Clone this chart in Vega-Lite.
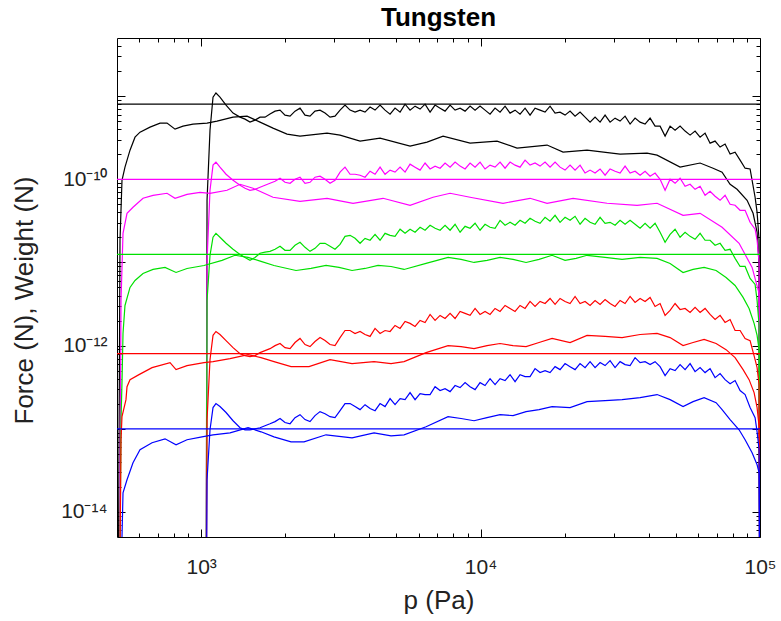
{
"$schema":"https://vega.github.io/schema/vega-lite/v6.json",
"width":643,"height":499,
"autosize":{"type":"none"},
"padding":{"left":117,"top":38,"right":21,"bottom":84},
"background":"white",
"title":{"text":"Tungsten","fontSize":26,"fontWeight":"bold","font":"Liberation Sans","color":"#000","offset":4,"anchor":"middle"},
"config":{"font":"Liberation Sans","view":{"stroke":null},"axis":{"domainColor":"#000","tickColor":"#000","labelColor":"#222","titleColor":"#222","grid":false,"labelFontSize":21,"titleFontSize":26,"titleFontWeight":"normal","domainWidth":1,"tickWidth":1,"labelFont":"Liberation Sans","titleFont":"Liberation Sans"}},
"datasets":{
"curves":[
{"s":"ks","p":504,"F":1e-16},{"s":"ks","p":512.5,"F":1.85e-11},{"s":"ks","p":521,"F":9.73e-11},{"s":"ks","p":534,"F":1.4e-10},{"s":"ks","p":556.6,"F":2.24e-10},{"s":"ks","p":580,"F":3.21e-10},{"s":"ks","p":604.4,"F":3.69e-10},{"s":"ks","p":656.4,"F":4.24e-10},{"s":"ks","p":712.8,"F":4.74e-10},{"s":"ks","p":755.1,"F":4.74e-10},{"s":"ks","p":806.6,"F":4.01e-10},{"s":"ks","p":861.4,"F":4.36e-10},{"s":"ks","p":935.4,"F":4.61e-10},{"s":"ks","p":1050,"F":4.74e-10},{"s":"ks","p":1140,"F":5.01e-10},{"s":"ks","p":1301,"F":5.59e-10},{"s":"ks","p":1460,"F":5.75e-10},{"s":"ks","p":1625,"F":4.87e-10},{"s":"ks","p":1808,"F":4.12e-10},{"s":"ks","p":2030,"F":3.49e-10},{"s":"ks","p":2259,"F":3.31e-10},{"s":"ks","p":2823,"F":3.59e-10},{"s":"ks","p":3142,"F":3.4e-10},{"s":"ks","p":3705,"F":2.88e-10},{"s":"ks","p":4369,"F":3.13e-10},{"s":"ks","p":5594,"F":2.51e-10},{"s":"ks","p":6435,"F":2.8e-10},{"s":"ks","p":7342,"F":3.31e-10},{"s":"ks","p":9172,"F":2.72e-10},{"s":"ks","p":11456,"F":2.88e-10},{"s":"ks","p":13507,"F":2.37e-10},{"s":"ks","p":17298,"F":2.58e-10},{"s":"ks","p":19736,"F":2.12e-10},{"s":"ks","p":24051,"F":2.24e-10},{"s":"ks","p":31570,"F":2.01e-10},{"s":"ks","p":39437,"F":2.06e-10},{"s":"ks","p":42823,"F":1.95e-10},{"s":"ks","p":51761,"F":1.4e-10},{"s":"ks","p":61038,"F":1.57e-10},{"s":"ks","p":67940,"F":1.36e-10},{"s":"ks","p":73171,"F":1.22e-10},{"s":"ks","p":78158,"F":8.71e-11},{"s":"ks","p":82780,"F":7.58e-11},{"s":"ks","p":89900,"F":5.59e-11},{"s":"ks","p":94460,"F":3.9e-11},{"s":"ks","p":97634,"F":2.31e-11},{"s":"ks","p":99260,"F":9.2e-12},{"s":"ks","p":100000,"F":1e-16},
{"s":"kn","p":1041,"F":1e-16},{"s":"kn","p":1050,"F":5.59e-11},{"s":"kn","p":1076,"F":3.9e-10},{"s":"kn","p":1103,"F":9.73e-10},{"s":"kn","p":1130,"F":1.09e-9},{"s":"kn","p":1168,"F":9.73e-10},{"s":"kn","p":1228,"F":7.8e-10},{"s":"kn","p":1301,"F":6.25e-10},{"s":"kn","p":1378,"F":5.59e-10},{"s":"kn","p":1436,"F":5.29e-10},{"s":"kn","p":1496,"F":4.87e-10},{"s":"kn","p":1559,"F":5.15e-10},{"s":"kn","p":1625,"F":5.59e-10},{"s":"kn","p":1693,"F":5.59e-10},{"s":"kn","p":1764,"F":6.08e-10},{"s":"kn","p":1839,"F":6.6e-10},{"s":"kn","p":1916,"F":6.79e-10},{"s":"kn","p":1996,"F":5.91e-10},{"s":"kn","p":2081,"F":5.75e-10},{"s":"kn","p":2168,"F":6.6e-10},{"s":"kn","p":2259,"F":7.17e-10},{"s":"kn","p":2354,"F":5.91e-10},{"s":"kn","p":2453,"F":5.75e-10},{"s":"kn","p":2556,"F":6.6e-10},{"s":"kn","p":2664,"F":6.79e-10},{"s":"kn","p":2776,"F":6.25e-10},{"s":"kn","p":2893,"F":5.59e-10},{"s":"kn","p":3014,"F":5.75e-10},{"s":"kn","p":3142,"F":6.79e-10},{"s":"kn","p":3273,"F":7.8e-10},{"s":"kn","p":3412,"F":6.79e-10},{"s":"kn","p":3555,"F":6.42e-10},{"s":"kn","p":3705,"F":6.79e-10},{"s":"kn","p":3860,"F":6.42e-10},{"s":"kn","p":4023,"F":7.38e-10},{"s":"kn","p":4192,"F":6.79e-10},{"s":"kn","p":4369,"F":7.8e-10},{"s":"kn","p":4552,"F":6.79e-10},{"s":"kn","p":4744,"F":6.08e-10},{"s":"kn","p":4943,"F":7.17e-10},{"s":"kn","p":5152,"F":6.42e-10},{"s":"kn","p":5368,"F":8.01e-10},{"s":"kn","p":5594,"F":6.79e-10},{"s":"kn","p":5829,"F":7.58e-10},{"s":"kn","p":6075,"F":6.98e-10},{"s":"kn","p":6330,"F":8.01e-10},{"s":"kn","p":6597,"F":6.42e-10},{"s":"kn","p":6874,"F":7.8e-10},{"s":"kn","p":7164,"F":7.17e-10},{"s":"kn","p":7464,"F":6.6e-10},{"s":"kn","p":7779,"F":7.8e-10},{"s":"kn","p":8106,"F":6.79e-10},{"s":"kn","p":8447,"F":7.17e-10},{"s":"kn","p":8802,"F":6.6e-10},{"s":"kn","p":9172,"F":7.58e-10},{"s":"kn","p":9558,"F":6.79e-10},{"s":"kn","p":9958,"F":7.58e-10},{"s":"kn","p":10377,"F":6.79e-10},{"s":"kn","p":10813,"F":6.08e-10},{"s":"kn","p":11269,"F":7.17e-10},{"s":"kn","p":11742,"F":6.42e-10},{"s":"kn","p":12237,"F":7.58e-10},{"s":"kn","p":12751,"F":6.25e-10},{"s":"kn","p":13288,"F":6.79e-10},{"s":"kn","p":13846,"F":6.08e-10},{"s":"kn","p":14430,"F":7.17e-10},{"s":"kn","p":15035,"F":5.91e-10},{"s":"kn","p":15668,"F":7.17e-10},{"s":"kn","p":16327,"F":6.79e-10},{"s":"kn","p":17015,"F":6.42e-10},{"s":"kn","p":17730,"F":7.58e-10},{"s":"kn","p":18477,"F":6.25e-10},{"s":"kn","p":19253,"F":6.42e-10},{"s":"kn","p":20064,"F":5.91e-10},{"s":"kn","p":20907,"F":6.6e-10},{"s":"kn","p":21788,"F":5.75e-10},{"s":"kn","p":22703,"F":6.42e-10},{"s":"kn","p":23659,"F":5.59e-10},{"s":"kn","p":24654,"F":4.87e-10},{"s":"kn","p":25691,"F":5.59e-10},{"s":"kn","p":26772,"F":4.87e-10},{"s":"kn","p":27898,"F":5.91e-10},{"s":"kn","p":29073,"F":4.87e-10},{"s":"kn","p":30294,"F":5.44e-10},{"s":"kn","p":31570,"F":5.01e-10},{"s":"kn","p":32895,"F":5.75e-10},{"s":"kn","p":34283,"F":4.61e-10},{"s":"kn","p":35725,"F":5.44e-10},{"s":"kn","p":37228,"F":4.87e-10},{"s":"kn","p":38794,"F":4.61e-10},{"s":"kn","p":40427,"F":5.44e-10},{"s":"kn","p":42125,"F":4.36e-10},{"s":"kn","p":43899,"F":4.36e-10},{"s":"kn","p":45745,"F":3.31e-10},{"s":"kn","p":47672,"F":4.36e-10},{"s":"kn","p":49672,"F":3.9e-10},{"s":"kn","p":51761,"F":4.36e-10},{"s":"kn","p":53938,"F":3.8e-10},{"s":"kn","p":56209,"F":3.4e-10},{"s":"kn","p":58567,"F":3.8e-10},{"s":"kn","p":61038,"F":3.21e-10},{"s":"kn","p":63599,"F":3.59e-10},{"s":"kn","p":66281,"F":2.72e-10},{"s":"kn","p":69063,"F":2.88e-10},{"s":"kn","p":71974,"F":2.44e-10},{"s":"kn","p":74995,"F":2.65e-10},{"s":"kn","p":78158,"F":2.01e-10},{"s":"kn","p":81438,"F":2.12e-10},{"s":"kn","p":84870,"F":1.7e-10},{"s":"kn","p":88440,"F":1.36e-10},{"s":"kn","p":92158,"F":1.33e-10},{"s":"kn","p":96042,"F":6.08e-11},{"s":"kn","p":97634,"F":4.01e-11},{"s":"kn","p":99260,"F":1.85e-11},{"s":"kn","p":100000,"F":1e-16},
{"s":"ms","p":508.3,"F":1e-16},{"s":"ms","p":516.8,"F":3.49e-12},{"s":"ms","p":525.4,"F":2.24e-11},{"s":"ms","p":543,"F":3.9e-11},{"s":"ms","p":570.5,"F":4.61e-11},{"s":"ms","p":619.5,"F":5.91e-11},{"s":"ms","p":672.9,"F":6.42e-11},{"s":"ms","p":755.1,"F":6.79e-11},{"s":"ms","p":806.6,"F":5.91e-11},{"s":"ms","p":890.3,"F":6.6e-11},{"s":"ms","p":991,"F":6.98e-11},{"s":"ms","p":1076,"F":6.79e-11},{"s":"ms","p":1238,"F":7.38e-11},{"s":"ms","p":1378,"F":8.71e-11},{"s":"ms","p":1534,"F":7.8e-11},{"s":"ms","p":1808,"F":6.08e-11},{"s":"ms","p":2259,"F":5.44e-11},{"s":"ms","p":2823,"F":5.91e-11},{"s":"ms","p":3497,"F":5.15e-11},{"s":"ms","p":4478,"F":5.91e-11},{"s":"ms","p":5594,"F":4.87e-11},{"s":"ms","p":6761,"F":6.08e-11},{"s":"ms","p":7779,"F":6.79e-11},{"s":"ms","p":9172,"F":6.08e-11},{"s":"ms","p":12036,"F":5.15e-11},{"s":"ms","p":15035,"F":5.91e-11},{"s":"ms","p":17298,"F":5.15e-11},{"s":"ms","p":21431,"F":5.91e-11},{"s":"ms","p":28364,"F":5.15e-11},{"s":"ms","p":36318,"F":4.87e-11},{"s":"ms","p":42823,"F":5.15e-11},{"s":"ms","p":53050,"F":3.69e-11},{"s":"ms","p":61038,"F":3.9e-11},{"s":"ms","p":73171,"F":2.65e-11},{"s":"ms","p":84175,"F":1.7e-11},{"s":"ms","p":93700,"F":8.71e-12},{"s":"ms","p":99260,"F":4.24e-12},{"s":"ms","p":100000,"F":1e-16},
{"s":"mn","p":1041,"F":1e-16},{"s":"mn","p":1050,"F":1.06e-11},{"s":"mn","p":1076,"F":7.38e-11},{"s":"mn","p":1103,"F":1.48e-10},{"s":"mn","p":1130,"F":1.61e-10},{"s":"mn","p":1168,"F":1.4e-10},{"s":"mn","p":1228,"F":1.15e-10},{"s":"mn","p":1301,"F":9.73e-11},{"s":"mn","p":1378,"F":8.47e-11},{"s":"mn","p":1436,"F":7.8e-11},{"s":"mn","p":1496,"F":7.38e-11},{"s":"mn","p":1559,"F":7.58e-11},{"s":"mn","p":1625,"F":8.01e-11},{"s":"mn","p":1693,"F":8.47e-11},{"s":"mn","p":1764,"F":8.95e-11},{"s":"mn","p":1839,"F":9.46e-11},{"s":"mn","p":1916,"F":1.03e-10},{"s":"mn","p":1996,"F":9.2e-11},{"s":"mn","p":2081,"F":8.95e-11},{"s":"mn","p":2168,"F":1e-10},{"s":"mn","p":2259,"F":1.06e-10},{"s":"mn","p":2354,"F":8.95e-11},{"s":"mn","p":2453,"F":9.2e-11},{"s":"mn","p":2556,"F":1.06e-10},{"s":"mn","p":2664,"F":1.09e-10},{"s":"mn","p":2776,"F":1e-10},{"s":"mn","p":2893,"F":8.95e-11},{"s":"mn","p":3014,"F":9.73e-11},{"s":"mn","p":3142,"F":1.22e-10},{"s":"mn","p":3273,"F":1.4e-10},{"s":"mn","p":3412,"F":1.15e-10},{"s":"mn","p":3555,"F":1.15e-10},{"s":"mn","p":3705,"F":1.12e-10},{"s":"mn","p":3860,"F":1.06e-10},{"s":"mn","p":4023,"F":1.25e-10},{"s":"mn","p":4192,"F":1.15e-10},{"s":"mn","p":4369,"F":1.4e-10},{"s":"mn","p":4552,"F":1.15e-10},{"s":"mn","p":4744,"F":1.29e-10},{"s":"mn","p":4943,"F":1.22e-10},{"s":"mn","p":5152,"F":1.4e-10},{"s":"mn","p":5368,"F":1.22e-10},{"s":"mn","p":5594,"F":1.52e-10},{"s":"mn","p":5829,"F":1.4e-10},{"s":"mn","p":6075,"F":1.29e-10},{"s":"mn","p":6330,"F":1.57e-10},{"s":"mn","p":6597,"F":1.33e-10},{"s":"mn","p":6874,"F":1.44e-10},{"s":"mn","p":7164,"F":1.36e-10},{"s":"mn","p":7464,"F":1.57e-10},{"s":"mn","p":7779,"F":1.4e-10},{"s":"mn","p":8106,"F":1.61e-10},{"s":"mn","p":8447,"F":1.44e-10},{"s":"mn","p":8802,"F":1.33e-10},{"s":"mn","p":9172,"F":1.57e-10},{"s":"mn","p":9558,"F":1.4e-10},{"s":"mn","p":9958,"F":1.61e-10},{"s":"mn","p":10377,"F":1.33e-10},{"s":"mn","p":10813,"F":1.48e-10},{"s":"mn","p":11269,"F":1.4e-10},{"s":"mn","p":11742,"F":1.61e-10},{"s":"mn","p":12237,"F":1.36e-10},{"s":"mn","p":12751,"F":1.61e-10},{"s":"mn","p":13288,"F":1.48e-10},{"s":"mn","p":13846,"F":1.4e-10},{"s":"mn","p":14430,"F":1.7e-10},{"s":"mn","p":15035,"F":1.48e-10},{"s":"mn","p":15668,"F":1.57e-10},{"s":"mn","p":16327,"F":1.44e-10},{"s":"mn","p":17015,"F":1.61e-10},{"s":"mn","p":17730,"F":1.4e-10},{"s":"mn","p":18477,"F":1.61e-10},{"s":"mn","p":19253,"F":1.4e-10},{"s":"mn","p":20064,"F":1.29e-10},{"s":"mn","p":20907,"F":1.48e-10},{"s":"mn","p":21788,"F":1.29e-10},{"s":"mn","p":22703,"F":1.48e-10},{"s":"mn","p":23659,"F":1.19e-10},{"s":"mn","p":24654,"F":1.29e-10},{"s":"mn","p":25691,"F":1.19e-10},{"s":"mn","p":26772,"F":1.33e-10},{"s":"mn","p":27898,"F":1.12e-10},{"s":"mn","p":29073,"F":1.33e-10},{"s":"mn","p":30294,"F":1.25e-10},{"s":"mn","p":31570,"F":1.19e-10},{"s":"mn","p":32895,"F":1.44e-10},{"s":"mn","p":34283,"F":1.19e-10},{"s":"mn","p":35725,"F":1.25e-10},{"s":"mn","p":37228,"F":1.12e-10},{"s":"mn","p":38794,"F":1.25e-10},{"s":"mn","p":40427,"F":1.09e-10},{"s":"mn","p":42125,"F":1.19e-10},{"s":"mn","p":43899,"F":1e-10},{"s":"mn","p":45745,"F":7.38e-11},{"s":"mn","p":47672,"F":1e-10},{"s":"mn","p":49672,"F":8.95e-11},{"s":"mn","p":51761,"F":1.03e-10},{"s":"mn","p":53938,"F":8.24e-11},{"s":"mn","p":56209,"F":8.71e-11},{"s":"mn","p":58567,"F":7.58e-11},{"s":"mn","p":61038,"F":8.24e-11},{"s":"mn","p":63599,"F":6.42e-11},{"s":"mn","p":66281,"F":7.17e-11},{"s":"mn","p":69063,"F":6.25e-11},{"s":"mn","p":71974,"F":5.59e-11},{"s":"mn","p":74995,"F":6.42e-11},{"s":"mn","p":78158,"F":5.01e-11},{"s":"mn","p":81438,"F":4.87e-11},{"s":"mn","p":84870,"F":4.24e-11},{"s":"mn","p":88440,"F":4.24e-11},{"s":"mn","p":92158,"F":3.04e-11},{"s":"mn","p":96042,"F":2.51e-11},{"s":"mn","p":97634,"F":1.85e-11},{"s":"mn","p":99260,"F":1e-11},{"s":"mn","p":100000,"F":1e-16},
{"s":"gs","p":508.3,"F":1e-16},{"s":"gs","p":516.8,"F":1.29e-13},{"s":"gs","p":521,"F":3.59e-13},{"s":"gs","p":525.4,"F":1.4e-12},{"s":"gs","p":534,"F":3.04e-12},{"s":"gs","p":556.6,"F":5.01e-12},{"s":"gs","p":580,"F":6.08e-12},{"s":"gs","p":619.5,"F":7.38e-12},{"s":"gs","p":672.9,"F":8.24e-12},{"s":"gs","p":742.8,"F":8.71e-12},{"s":"gs","p":813.3,"F":7.58e-12},{"s":"gs","p":890.3,"F":8.47e-12},{"s":"gs","p":1024,"F":9.2e-12},{"s":"gs","p":1188,"F":1.06e-11},{"s":"gs","p":1322,"F":1.22e-11},{"s":"gs","p":1472,"F":1.15e-11},{"s":"gs","p":1638,"F":1.03e-11},{"s":"gs","p":1823,"F":9.2e-12},{"s":"gs","p":2186,"F":8.01e-12},{"s":"gs","p":2474,"F":8.47e-12},{"s":"gs","p":2799,"F":9.2e-12},{"s":"gs","p":3115,"F":8.71e-12},{"s":"gs","p":3468,"F":8.01e-12},{"s":"gs","p":3860,"F":8.47e-12},{"s":"gs","p":4297,"F":9.2e-12},{"s":"gs","p":4783,"F":8.95e-12},{"s":"gs","p":5324,"F":8.24e-12},{"s":"gs","p":6382,"F":9.73e-12},{"s":"gs","p":7651,"F":1.15e-11},{"s":"gs","p":8516,"F":1.09e-11},{"s":"gs","p":9478,"F":1e-11},{"s":"gs","p":10550,"F":1.06e-11},{"s":"gs","p":11742,"F":1.15e-11},{"s":"gs","p":13071,"F":1.09e-11},{"s":"gs","p":14550,"F":1e-11},{"s":"gs","p":16193,"F":1.09e-11},{"s":"gs","p":18025,"F":1.22e-11},{"s":"gs","p":20064,"F":1.06e-11},{"s":"gs","p":21968,"F":1.12e-11},{"s":"gs","p":24051,"F":1.22e-11},{"s":"gs","p":27898,"F":1.15e-11},{"s":"gs","p":32095,"F":1.09e-11},{"s":"gs","p":37228,"F":1.15e-11},{"s":"gs","p":42823,"F":1.12e-11},{"s":"gs","p":47672,"F":9.73e-12},{"s":"gs","p":53050,"F":7.58e-12},{"s":"gs","p":57614,"F":8.24e-12},{"s":"gs","p":63095,"F":8.71e-12},{"s":"gs","p":69650,"F":8.01e-12},{"s":"gs","p":75615,"F":6.6e-12},{"s":"gs","p":81438,"F":5.29e-12},{"s":"gs","p":86990,"F":3.8e-12},{"s":"gs","p":91403,"F":2.8e-12},{"s":"gs","p":95250,"F":1.85e-12},{"s":"gs","p":97634,"F":1.33e-12},{"s":"gs","p":99260,"F":8.95e-13},{"s":"gs","p":100000,"F":1e-16},
{"s":"gn","p":1041,"F":1e-16},{"s":"gn","p":1050,"F":3.49e-12},{"s":"gn","p":1076,"F":1.22e-11},{"s":"gn","p":1103,"F":2.01e-11},{"s":"gn","p":1130,"F":2.24e-11},{"s":"gn","p":1168,"F":2.01e-11},{"s":"gn","p":1228,"F":1.7e-11},{"s":"gn","p":1301,"F":1.44e-11},{"s":"gn","p":1378,"F":1.25e-11},{"s":"gn","p":1436,"F":1.15e-11},{"s":"gn","p":1496,"F":1.06e-11},{"s":"gn","p":1559,"F":1.15e-11},{"s":"gn","p":1625,"F":1.29e-11},{"s":"gn","p":1693,"F":1.33e-11},{"s":"gn","p":1764,"F":1.36e-11},{"s":"gn","p":1839,"F":1.44e-11},{"s":"gn","p":1916,"F":1.57e-11},{"s":"gn","p":1996,"F":1.4e-11},{"s":"gn","p":2081,"F":1.4e-11},{"s":"gn","p":2168,"F":1.61e-11},{"s":"gn","p":2259,"F":1.75e-11},{"s":"gn","p":2354,"F":1.52e-11},{"s":"gn","p":2453,"F":1.36e-11},{"s":"gn","p":2556,"F":1.48e-11},{"s":"gn","p":2664,"F":1.7e-11},{"s":"gn","p":2776,"F":1.7e-11},{"s":"gn","p":2893,"F":1.57e-11},{"s":"gn","p":3014,"F":1.44e-11},{"s":"gn","p":3142,"F":1.65e-11},{"s":"gn","p":3273,"F":2.06e-11},{"s":"gn","p":3412,"F":2.12e-11},{"s":"gn","p":3555,"F":1.95e-11},{"s":"gn","p":3705,"F":1.7e-11},{"s":"gn","p":3860,"F":1.95e-11},{"s":"gn","p":4023,"F":1.85e-11},{"s":"gn","p":4192,"F":2.18e-11},{"s":"gn","p":4369,"F":1.85e-11},{"s":"gn","p":4552,"F":2.24e-11},{"s":"gn","p":4744,"F":2.12e-11},{"s":"gn","p":4943,"F":2.06e-11},{"s":"gn","p":5152,"F":2.51e-11},{"s":"gn","p":5368,"F":2.24e-11},{"s":"gn","p":5594,"F":2.51e-11},{"s":"gn","p":5829,"F":2.31e-11},{"s":"gn","p":6075,"F":2.65e-11},{"s":"gn","p":6330,"F":2.44e-11},{"s":"gn","p":6597,"F":2.8e-11},{"s":"gn","p":6874,"F":2.58e-11},{"s":"gn","p":7164,"F":2.44e-11},{"s":"gn","p":7464,"F":2.8e-11},{"s":"gn","p":7779,"F":2.44e-11},{"s":"gn","p":8106,"F":2.88e-11},{"s":"gn","p":8447,"F":2.31e-11},{"s":"gn","p":8802,"F":2.72e-11},{"s":"gn","p":9172,"F":2.58e-11},{"s":"gn","p":9558,"F":2.96e-11},{"s":"gn","p":9958,"F":2.44e-11},{"s":"gn","p":10377,"F":2.88e-11},{"s":"gn","p":10813,"F":2.65e-11},{"s":"gn","p":11269,"F":2.58e-11},{"s":"gn","p":11742,"F":3.21e-11},{"s":"gn","p":12237,"F":2.8e-11},{"s":"gn","p":12751,"F":3.04e-11},{"s":"gn","p":13288,"F":2.8e-11},{"s":"gn","p":13846,"F":3.21e-11},{"s":"gn","p":14430,"F":2.96e-11},{"s":"gn","p":15035,"F":3.4e-11},{"s":"gn","p":15668,"F":3.13e-11},{"s":"gn","p":16327,"F":2.96e-11},{"s":"gn","p":17015,"F":3.49e-11},{"s":"gn","p":17730,"F":3.13e-11},{"s":"gn","p":18477,"F":3.69e-11},{"s":"gn","p":19253,"F":3.04e-11},{"s":"gn","p":20064,"F":3.49e-11},{"s":"gn","p":20907,"F":3.21e-11},{"s":"gn","p":21788,"F":3.59e-11},{"s":"gn","p":22703,"F":2.88e-11},{"s":"gn","p":23659,"F":3.4e-11},{"s":"gn","p":24654,"F":3.04e-11},{"s":"gn","p":25691,"F":2.88e-11},{"s":"gn","p":26772,"F":3.49e-11},{"s":"gn","p":27898,"F":2.96e-11},{"s":"gn","p":29073,"F":3.04e-11},{"s":"gn","p":30294,"F":2.8e-11},{"s":"gn","p":31570,"F":3.21e-11},{"s":"gn","p":32895,"F":2.88e-11},{"s":"gn","p":34283,"F":3.21e-11},{"s":"gn","p":35725,"F":2.88e-11},{"s":"gn","p":37228,"F":2.58e-11},{"s":"gn","p":38794,"F":2.96e-11},{"s":"gn","p":40427,"F":2.58e-11},{"s":"gn","p":42125,"F":2.96e-11},{"s":"gn","p":43899,"F":2.31e-11},{"s":"gn","p":45745,"F":1.75e-11},{"s":"gn","p":47672,"F":2.18e-11},{"s":"gn","p":49672,"F":2.51e-11},{"s":"gn","p":51761,"F":2.01e-11},{"s":"gn","p":53938,"F":2.31e-11},{"s":"gn","p":56209,"F":2.06e-11},{"s":"gn","p":58567,"F":1.9e-11},{"s":"gn","p":61038,"F":2.24e-11},{"s":"gn","p":63599,"F":1.85e-11},{"s":"gn","p":66281,"F":1.85e-11},{"s":"gn","p":69063,"F":1.61e-11},{"s":"gn","p":71974,"F":1.7e-11},{"s":"gn","p":74995,"F":1.4e-11},{"s":"gn","p":78158,"F":1.44e-11},{"s":"gn","p":81438,"F":1.12e-11},{"s":"gn","p":84870,"F":8.95e-12},{"s":"gn","p":88440,"F":8.95e-12},{"s":"gn","p":92158,"F":6.42e-12},{"s":"gn","p":96042,"F":5.44e-12},{"s":"gn","p":97634,"F":3.49e-12},{"s":"gn","p":99260,"F":1.75e-12},{"s":"gn","p":100000,"F":1e-16},
{"s":"rs","p":508.3,"F":1e-16},{"s":"rs","p":516.8,"F":7.38e-14},{"s":"rs","p":521,"F":1.4e-13},{"s":"rs","p":538.4,"F":2.24e-13},{"s":"rs","p":543,"F":3.21e-13},{"s":"rs","p":556.6,"F":3.9e-13},{"s":"rs","p":599.4,"F":4.48e-13},{"s":"rs","p":667.4,"F":5.44e-13},{"s":"rs","p":774.1,"F":6.25e-13},{"s":"rs","p":813.3,"F":5.15e-13},{"s":"rs","p":890.3,"F":5.75e-13},{"s":"rs","p":1024,"F":6.25e-13},{"s":"rs","p":1103,"F":6.42e-13},{"s":"rs","p":1269,"F":6.98e-13},{"s":"rs","p":1472,"F":7.8e-13},{"s":"rs","p":1638,"F":7.17e-13},{"s":"rs","p":1823,"F":6.42e-13},{"s":"rs","p":2098,"F":5.59e-13},{"s":"rs","p":2433,"F":5.59e-13},{"s":"rs","p":2893,"F":6.79e-13},{"s":"rs","p":3468,"F":6.08e-13},{"s":"rs","p":4157,"F":6.42e-13},{"s":"rs","p":4783,"F":6.08e-13},{"s":"rs","p":5324,"F":6.42e-13},{"s":"rs","p":6382,"F":8.24e-13},{"s":"rs","p":7651,"F":1e-12},{"s":"rs","p":8516,"F":9.73e-13},{"s":"rs","p":9478,"F":9.2e-13},{"s":"rs","p":10550,"F":1e-12},{"s":"rs","p":11742,"F":1.06e-12},{"s":"rs","p":13071,"F":1e-12},{"s":"rs","p":14550,"F":9.73e-13},{"s":"rs","p":16193,"F":1.09e-12},{"s":"rs","p":18025,"F":1.22e-12},{"s":"rs","p":20907,"F":1.09e-12},{"s":"rs","p":24051,"F":1.33e-12},{"s":"rs","p":27898,"F":1.29e-12},{"s":"rs","p":32095,"F":1.25e-12},{"s":"rs","p":37228,"F":1.36e-12},{"s":"rs","p":42823,"F":1.4e-12},{"s":"rs","p":47672,"F":1.25e-12},{"s":"rs","p":53050,"F":1e-12},{"s":"rs","p":57614,"F":1.09e-12},{"s":"rs","p":63095,"F":1.19e-12},{"s":"rs","p":69650,"F":1.06e-12},{"s":"rs","p":75615,"F":8.95e-13},{"s":"rs","p":81438,"F":7.17e-13},{"s":"rs","p":86990,"F":5.15e-13},{"s":"rs","p":91403,"F":3.9e-13},{"s":"rs","p":95250,"F":2.72e-13},{"s":"rs","p":97634,"F":1.8e-13},{"s":"rs","p":99260,"F":1.06e-13},{"s":"rs","p":100000,"F":1e-16},
{"s":"rn","p":1041,"F":1e-16},{"s":"rn","p":1050,"F":1.29e-13},{"s":"rn","p":1076,"F":6.79e-13},{"s":"rn","p":1103,"F":1.33e-12},{"s":"rn","p":1130,"F":1.48e-12},{"s":"rn","p":1168,"F":1.36e-12},{"s":"rn","p":1228,"F":1.15e-12},{"s":"rn","p":1301,"F":9.46e-13},{"s":"rn","p":1378,"F":8.01e-13},{"s":"rn","p":1436,"F":7.58e-13},{"s":"rn","p":1496,"F":7.38e-13},{"s":"rn","p":1559,"F":7.58e-13},{"s":"rn","p":1625,"F":8.24e-13},{"s":"rn","p":1693,"F":8.71e-13},{"s":"rn","p":1764,"F":9.2e-13},{"s":"rn","p":1839,"F":1e-12},{"s":"rn","p":1916,"F":1.06e-12},{"s":"rn","p":1996,"F":9.46e-13},{"s":"rn","p":2081,"F":9.2e-13},{"s":"rn","p":2168,"F":1.09e-12},{"s":"rn","p":2259,"F":1.22e-12},{"s":"rn","p":2354,"F":1.03e-12},{"s":"rn","p":2453,"F":9.73e-13},{"s":"rn","p":2556,"F":1.12e-12},{"s":"rn","p":2664,"F":1.25e-12},{"s":"rn","p":2776,"F":1.15e-12},{"s":"rn","p":2893,"F":1.03e-12},{"s":"rn","p":3014,"F":1e-12},{"s":"rn","p":3142,"F":1.25e-12},{"s":"rn","p":3273,"F":1.52e-12},{"s":"rn","p":3412,"F":1.52e-12},{"s":"rn","p":3555,"F":1.4e-12},{"s":"rn","p":3705,"F":1.48e-12},{"s":"rn","p":3860,"F":1.36e-12},{"s":"rn","p":4023,"F":1.29e-12},{"s":"rn","p":4192,"F":1.61e-12},{"s":"rn","p":4369,"F":1.4e-12},{"s":"rn","p":4552,"F":1.52e-12},{"s":"rn","p":4744,"F":1.48e-12},{"s":"rn","p":4943,"F":1.75e-12},{"s":"rn","p":5152,"F":1.61e-12},{"s":"rn","p":5368,"F":1.95e-12},{"s":"rn","p":5594,"F":1.85e-12},{"s":"rn","p":5829,"F":1.7e-12},{"s":"rn","p":6075,"F":2.01e-12},{"s":"rn","p":6330,"F":1.9e-12},{"s":"rn","p":6597,"F":2.37e-12},{"s":"rn","p":6874,"F":2.01e-12},{"s":"rn","p":7164,"F":2.31e-12},{"s":"rn","p":7464,"F":2.12e-12},{"s":"rn","p":7779,"F":2.44e-12},{"s":"rn","p":8106,"F":2.12e-12},{"s":"rn","p":8447,"F":2.58e-12},{"s":"rn","p":8802,"F":2.44e-12},{"s":"rn","p":9172,"F":2.31e-12},{"s":"rn","p":9558,"F":2.8e-12},{"s":"rn","p":9958,"F":2.37e-12},{"s":"rn","p":10377,"F":2.58e-12},{"s":"rn","p":10813,"F":2.37e-12},{"s":"rn","p":11269,"F":2.8e-12},{"s":"rn","p":11742,"F":2.58e-12},{"s":"rn","p":12237,"F":3.04e-12},{"s":"rn","p":12751,"F":2.8e-12},{"s":"rn","p":13288,"F":2.58e-12},{"s":"rn","p":13846,"F":3.04e-12},{"s":"rn","p":14430,"F":2.8e-12},{"s":"rn","p":15035,"F":3.4e-12},{"s":"rn","p":15668,"F":2.96e-12},{"s":"rn","p":16327,"F":3.4e-12},{"s":"rn","p":17015,"F":3.21e-12},{"s":"rn","p":17730,"F":3.69e-12},{"s":"rn","p":18477,"F":3.13e-12},{"s":"rn","p":19253,"F":3.69e-12},{"s":"rn","p":20064,"F":3.4e-12},{"s":"rn","p":20907,"F":3.21e-12},{"s":"rn","p":21788,"F":3.9e-12},{"s":"rn","p":22703,"F":3.21e-12},{"s":"rn","p":23659,"F":3.4e-12},{"s":"rn","p":24654,"F":3.04e-12},{"s":"rn","p":25691,"F":3.49e-12},{"s":"rn","p":26772,"F":3.13e-12},{"s":"rn","p":27898,"F":3.59e-12},{"s":"rn","p":29073,"F":3.21e-12},{"s":"rn","p":30294,"F":2.96e-12},{"s":"rn","p":31570,"F":3.49e-12},{"s":"rn","p":32895,"F":3.21e-12},{"s":"rn","p":34283,"F":3.9e-12},{"s":"rn","p":35725,"F":3.31e-12},{"s":"rn","p":37228,"F":3.69e-12},{"s":"rn","p":38794,"F":3.4e-12},{"s":"rn","p":40427,"F":3.8e-12},{"s":"rn","p":42125,"F":2.96e-12},{"s":"rn","p":43899,"F":3.21e-12},{"s":"rn","p":45745,"F":2.31e-12},{"s":"rn","p":47672,"F":2.65e-12},{"s":"rn","p":49672,"F":3.21e-12},{"s":"rn","p":51761,"F":2.72e-12},{"s":"rn","p":53938,"F":2.8e-12},{"s":"rn","p":56209,"F":2.51e-12},{"s":"rn","p":58567,"F":2.88e-12},{"s":"rn","p":61038,"F":2.51e-12},{"s":"rn","p":63599,"F":2.8e-12},{"s":"rn","p":66281,"F":2.37e-12},{"s":"rn","p":69063,"F":2.06e-12},{"s":"rn","p":71974,"F":2.31e-12},{"s":"rn","p":74995,"F":1.9e-12},{"s":"rn","p":78158,"F":2.06e-12},{"s":"rn","p":81438,"F":1.52e-12},{"s":"rn","p":84870,"F":1.52e-12},{"s":"rn","p":88440,"F":1.22e-12},{"s":"rn","p":92158,"F":1.15e-12},{"s":"rn","p":96042,"F":6.79e-13},{"s":"rn","p":97634,"F":5.44e-13},{"s":"rn","p":99260,"F":3.4e-13},{"s":"rn","p":100000,"F":1e-16},
{"s":"bs","p":516.8,"F":1e-16},{"s":"bs","p":521,"F":5.01e-15},{"s":"bs","p":525.4,"F":1.7e-14},{"s":"bs","p":543,"F":2.44e-14},{"s":"bs","p":570.5,"F":3.9e-14},{"s":"bs","p":604.4,"F":5.59e-14},{"s":"bs","p":667.4,"F":6.79e-14},{"s":"bs","p":742.8,"F":7.58e-14},{"s":"bs","p":813.3,"F":6.42e-14},{"s":"bs","p":890.3,"F":7.38e-14},{"s":"bs","p":1007,"F":8.01e-14},{"s":"bs","p":1103,"F":8.47e-14},{"s":"bs","p":1269,"F":8.95e-14},{"s":"bs","p":1472,"F":1.03e-13},{"s":"bs","p":1638,"F":9.2e-14},{"s":"bs","p":1823,"F":8.01e-14},{"s":"bs","p":2098,"F":6.98e-14},{"s":"bs","p":2335,"F":6.98e-14},{"s":"bs","p":2799,"F":8.47e-14},{"s":"bs","p":3468,"F":7.8e-14},{"s":"bs","p":4157,"F":8.95e-14},{"s":"bs","p":4783,"F":8.24e-14},{"s":"bs","p":5324,"F":8.47e-14},{"s":"bs","p":6382,"F":1.06e-13},{"s":"bs","p":7651,"F":1.4e-13},{"s":"bs","p":8516,"F":1.33e-13},{"s":"bs","p":9478,"F":1.25e-13},{"s":"bs","p":10550,"F":1.36e-13},{"s":"bs","p":11742,"F":1.48e-13},{"s":"bs","p":13071,"F":1.44e-13},{"s":"bs","p":14550,"F":1.61e-13},{"s":"bs","p":16193,"F":1.7e-13},{"s":"bs","p":18025,"F":1.85e-13},{"s":"bs","p":20907,"F":1.8e-13},{"s":"bs","p":24051,"F":2.12e-13},{"s":"bs","p":27898,"F":2.18e-13},{"s":"bs","p":32095,"F":2.24e-13},{"s":"bs","p":37228,"F":2.37e-13},{"s":"bs","p":42823,"F":2.58e-13},{"s":"bs","p":47672,"F":2.24e-13},{"s":"bs","p":53050,"F":1.85e-13},{"s":"bs","p":57614,"F":2.12e-13},{"s":"bs","p":63095,"F":2.37e-13},{"s":"bs","p":69650,"F":2.06e-13},{"s":"bs","p":73171,"F":1.7e-13},{"s":"bs","p":78158,"F":1.29e-13},{"s":"bs","p":84175,"F":9.73e-14},{"s":"bs","p":88440,"F":7.38e-14},{"s":"bs","p":93700,"F":5.15e-14},{"s":"bs","p":97634,"F":3.69e-14},{"s":"bs","p":99260,"F":2.96e-14},{"s":"bs","p":100000,"F":1e-16},
{"s":"bn","p":1041,"F":1e-16},{"s":"bn","p":1050,"F":2.44e-14},{"s":"bn","p":1076,"F":9.73e-14},{"s":"bn","p":1103,"F":1.8e-13},{"s":"bn","p":1130,"F":2.01e-13},{"s":"bn","p":1168,"F":1.85e-13},{"s":"bn","p":1228,"F":1.57e-13},{"s":"bn","p":1301,"F":1.25e-13},{"s":"bn","p":1378,"F":1.03e-13},{"s":"bn","p":1436,"F":9.73e-14},{"s":"bn","p":1496,"F":9.73e-14},{"s":"bn","p":1559,"F":1e-13},{"s":"bn","p":1625,"F":1.03e-13},{"s":"bn","p":1693,"F":1.09e-13},{"s":"bn","p":1764,"F":1.15e-13},{"s":"bn","p":1839,"F":1.22e-13},{"s":"bn","p":1916,"F":1.33e-13},{"s":"bn","p":1996,"F":1.19e-13},{"s":"bn","p":2081,"F":1.15e-13},{"s":"bn","p":2168,"F":1.36e-13},{"s":"bn","p":2259,"F":1.48e-13},{"s":"bn","p":2354,"F":1.29e-13},{"s":"bn","p":2453,"F":1.22e-13},{"s":"bn","p":2556,"F":1.44e-13},{"s":"bn","p":2664,"F":1.61e-13},{"s":"bn","p":2776,"F":1.52e-13},{"s":"bn","p":2893,"F":1.4e-13},{"s":"bn","p":3014,"F":1.36e-13},{"s":"bn","p":3142,"F":1.65e-13},{"s":"bn","p":3273,"F":2.01e-13},{"s":"bn","p":3412,"F":2.01e-13},{"s":"bn","p":3555,"F":1.85e-13},{"s":"bn","p":3705,"F":1.7e-13},{"s":"bn","p":3860,"F":1.95e-13},{"s":"bn","p":4023,"F":1.75e-13},{"s":"bn","p":4192,"F":1.65e-13},{"s":"bn","p":4369,"F":2.01e-13},{"s":"bn","p":4552,"F":1.85e-13},{"s":"bn","p":4744,"F":2.31e-13},{"s":"bn","p":4943,"F":1.95e-13},{"s":"bn","p":5152,"F":2.31e-13},{"s":"bn","p":5368,"F":2.24e-13},{"s":"bn","p":5594,"F":2.72e-13},{"s":"bn","p":5829,"F":2.24e-13},{"s":"bn","p":6075,"F":2.65e-13},{"s":"bn","p":6330,"F":2.58e-13},{"s":"bn","p":6597,"F":2.58e-13},{"s":"bn","p":6874,"F":3.21e-13},{"s":"bn","p":7164,"F":2.88e-13},{"s":"bn","p":7464,"F":3.04e-13},{"s":"bn","p":7779,"F":2.8e-13},{"s":"bn","p":8106,"F":3.31e-13},{"s":"bn","p":8447,"F":3.13e-13},{"s":"bn","p":8802,"F":3.59e-13},{"s":"bn","p":9172,"F":3.21e-13},{"s":"bn","p":9558,"F":2.96e-13},{"s":"bn","p":9958,"F":3.59e-13},{"s":"bn","p":10377,"F":3.31e-13},{"s":"bn","p":10813,"F":4.01e-13},{"s":"bn","p":11269,"F":3.4e-13},{"s":"bn","p":11742,"F":4.01e-13},{"s":"bn","p":12237,"F":3.8e-13},{"s":"bn","p":12751,"F":4.48e-13},{"s":"bn","p":13288,"F":3.69e-13},{"s":"bn","p":13846,"F":4.48e-13},{"s":"bn","p":14430,"F":4.24e-13},{"s":"bn","p":15035,"F":4.24e-13},{"s":"bn","p":15668,"F":5.29e-13},{"s":"bn","p":16327,"F":4.74e-13},{"s":"bn","p":17015,"F":5.01e-13},{"s":"bn","p":17730,"F":4.74e-13},{"s":"bn","p":18477,"F":5.59e-13},{"s":"bn","p":19253,"F":5.15e-13},{"s":"bn","p":20064,"F":6.08e-13},{"s":"bn","p":20907,"F":5.59e-13},{"s":"bn","p":21788,"F":5.15e-13},{"s":"bn","p":22703,"F":6.08e-13},{"s":"bn","p":23659,"F":5.44e-13},{"s":"bn","p":24654,"F":6.42e-13},{"s":"bn","p":25691,"F":5.44e-13},{"s":"bn","p":26772,"F":6.25e-13},{"s":"bn","p":27898,"F":5.75e-13},{"s":"bn","p":29073,"F":6.6e-13},{"s":"bn","p":30294,"F":5.44e-13},{"s":"bn","p":31570,"F":6.42e-13},{"s":"bn","p":32895,"F":5.91e-13},{"s":"bn","p":34283,"F":5.75e-13},{"s":"bn","p":35725,"F":7.17e-13},{"s":"bn","p":37228,"F":6.25e-13},{"s":"bn","p":38794,"F":6.42e-13},{"s":"bn","p":40427,"F":5.91e-13},{"s":"bn","p":42125,"F":6.42e-13},{"s":"bn","p":43899,"F":5.59e-13},{"s":"bn","p":45745,"F":4.36e-13},{"s":"bn","p":47672,"F":5.29e-13},{"s":"bn","p":49672,"F":5.01e-13},{"s":"bn","p":51761,"F":5.91e-13},{"s":"bn","p":53938,"F":5.15e-13},{"s":"bn","p":56209,"F":6.08e-13},{"s":"bn","p":58567,"F":4.87e-13},{"s":"bn","p":61038,"F":5.44e-13},{"s":"bn","p":63599,"F":4.74e-13},{"s":"bn","p":66281,"F":5.29e-13},{"s":"bn","p":69063,"F":4.12e-13},{"s":"bn","p":71974,"F":4.61e-13},{"s":"bn","p":74995,"F":3.9e-13},{"s":"bn","p":78158,"F":3.49e-13},{"s":"bn","p":81438,"F":3.8e-13},{"s":"bn","p":84870,"F":2.88e-13},{"s":"bn","p":88440,"F":2.58e-13},{"s":"bn","p":92158,"F":1.8e-13},{"s":"bn","p":96042,"F":1.36e-13},{"s":"bn","p":97634,"F":9.2e-14},{"s":"bn","p":99260,"F":5.59e-14},{"s":"bn","p":100000,"F":1e-16}
],
"weights":[
{"s":"kw","p":500,"F":8.0e-10},{"s":"kw","p":100000,"F":8.0e-10},
{"s":"mw","p":500,"F":1.0e-10},{"s":"mw","p":100000,"F":1.0e-10},
{"s":"gw","p":500,"F":1.25e-11},{"s":"gw","p":100000,"F":1.25e-11},
{"s":"rw","p":500,"F":8.0e-13},{"s":"rw","p":100000,"F":8.0e-13},
{"s":"bw","p":500,"F":1.0e-13},{"s":"bw","p":100000,"F":1.0e-13}
]
},
"layer":[
{"data":{"name":"curves"},
"mark":{"type":"line","clip":true,"strokeWidth":1.2},
"encoding":{
"x":{"field":"p","type":"quantitative","scale":{"type":"log","domain":[500,100000],"nice":false},
"axis":{"orient":"bottom","values":[600,700,800,900,1000,2000,3000,4000,5000,6000,7000,8000,9000,10000,20000,30000,40000,50000,60000,70000,80000,90000,100000],
"labelExpr":"datum.value == 1000 ? '10³' : datum.value == 10000 ? '10⁴' : datum.value == 100000 ? '10⁵' : ''",
"tickSize":{"condition":{"test":"datum.value == 1000 || datum.value == 10000 || datum.value == 100000","value":-8},"value":-4},
"labelFontSize":21,"labelPadding":27,"labelOverlap":false,"labelFlush":false,"title":"p (Pa)","titleFontSize":26,"titleBaseline":"middle","titleY":63}},
"y":{"field":"F","type":"quantitative","scale":{"type":"log","domain":[5e-15,5e-9],"nice":false},
"axis":{"orient":"left","values":[6e-15,7e-15,8e-15,9e-15,1e-14,2e-14,3e-14,4e-14,5e-14,6e-14,7e-14,8e-14,9e-14,1e-13,2e-13,3e-13,4e-13,5e-13,6e-13,7e-13,8e-13,9e-13,1e-12,2e-12,3e-12,4e-12,5e-12,6e-12,7e-12,8e-12,9e-12,1e-11,2e-11,3e-11,4e-11,5e-11,6e-11,7e-11,8e-11,9e-11,1e-10,2e-10,3e-10,4e-10,5e-10,6e-10,7e-10,8e-10,9e-10,1e-9,2e-9,3e-9,4e-9],
"labelExpr":"datum.value == 1e-10 ? '10⁻¹⁰' : datum.value == 1e-12 ? '10⁻¹²' : datum.value == 1e-14 ? '10⁻¹⁴' : ''",
"tickSize":{"condition":{"test":"abs(log(datum.value)/LN10 - round(log(datum.value)/LN10)) < 0.001","value":-8},"value":-4},
"labelFontSize":21,"labelPadding":18,"labelOverlap":false,"labelFlush":false,"title":"Force (N), Weight (N)","titleFontSize":26,"titleBaseline":"middle","titleX":-93,"titleY":262}},
"color":{"field":"s","type":"nominal","legend":null,"scale":{"domain":["ks","kn","kw","ms","mn","mw","gs","gn","gw","rs","rn","rw","bs","bn","bw"],"range":["#000000","#000000","#000000","#ff00ff","#ff00ff","#ff00ff","#00e000","#00e000","#00e000","#ff0000","#ff0000","#ff0000","#0000ff","#0000ff","#0000ff"]}}
}},
{"data":{"name":"weights"},
"mark":{"type":"line","clip":true,"strokeWidth":1.2},
"encoding":{
"x":{"field":"p","type":"quantitative","scale":{"type":"log","domain":[500,100000],"nice":false},
"axis":{"orient":"top","values":[600,700,800,900,1000,2000,3000,4000,5000,6000,7000,8000,9000,10000,20000,30000,40000,50000,60000,70000,80000,90000,100000],"labels":false,"title":null,
"tickSize":{"condition":{"test":"datum.value == 1000 || datum.value == 10000 || datum.value == 100000","value":-8},"value":-4}}},
"y":{"field":"F","type":"quantitative","scale":{"type":"log","domain":[5e-15,5e-9],"nice":false},
"axis":{"orient":"right","values":[6e-15,7e-15,8e-15,9e-15,1e-14,2e-14,3e-14,4e-14,5e-14,6e-14,7e-14,8e-14,9e-14,1e-13,2e-13,3e-13,4e-13,5e-13,6e-13,7e-13,8e-13,9e-13,1e-12,2e-12,3e-12,4e-12,5e-12,6e-12,7e-12,8e-12,9e-12,1e-11,2e-11,3e-11,4e-11,5e-11,6e-11,7e-11,8e-11,9e-11,1e-10,2e-10,3e-10,4e-10,5e-10,6e-10,7e-10,8e-10,9e-10,1e-9,2e-9,3e-9,4e-9],"labels":false,"title":null,
"tickSize":{"condition":{"test":"abs(log(datum.value)/LN10 - round(log(datum.value)/LN10)) < 0.001","value":-8},"value":-4}}},
"color":{"field":"s","type":"nominal","legend":null}
}}
],
"resolve":{"axis":{"x":"independent","y":"independent"}}
}
